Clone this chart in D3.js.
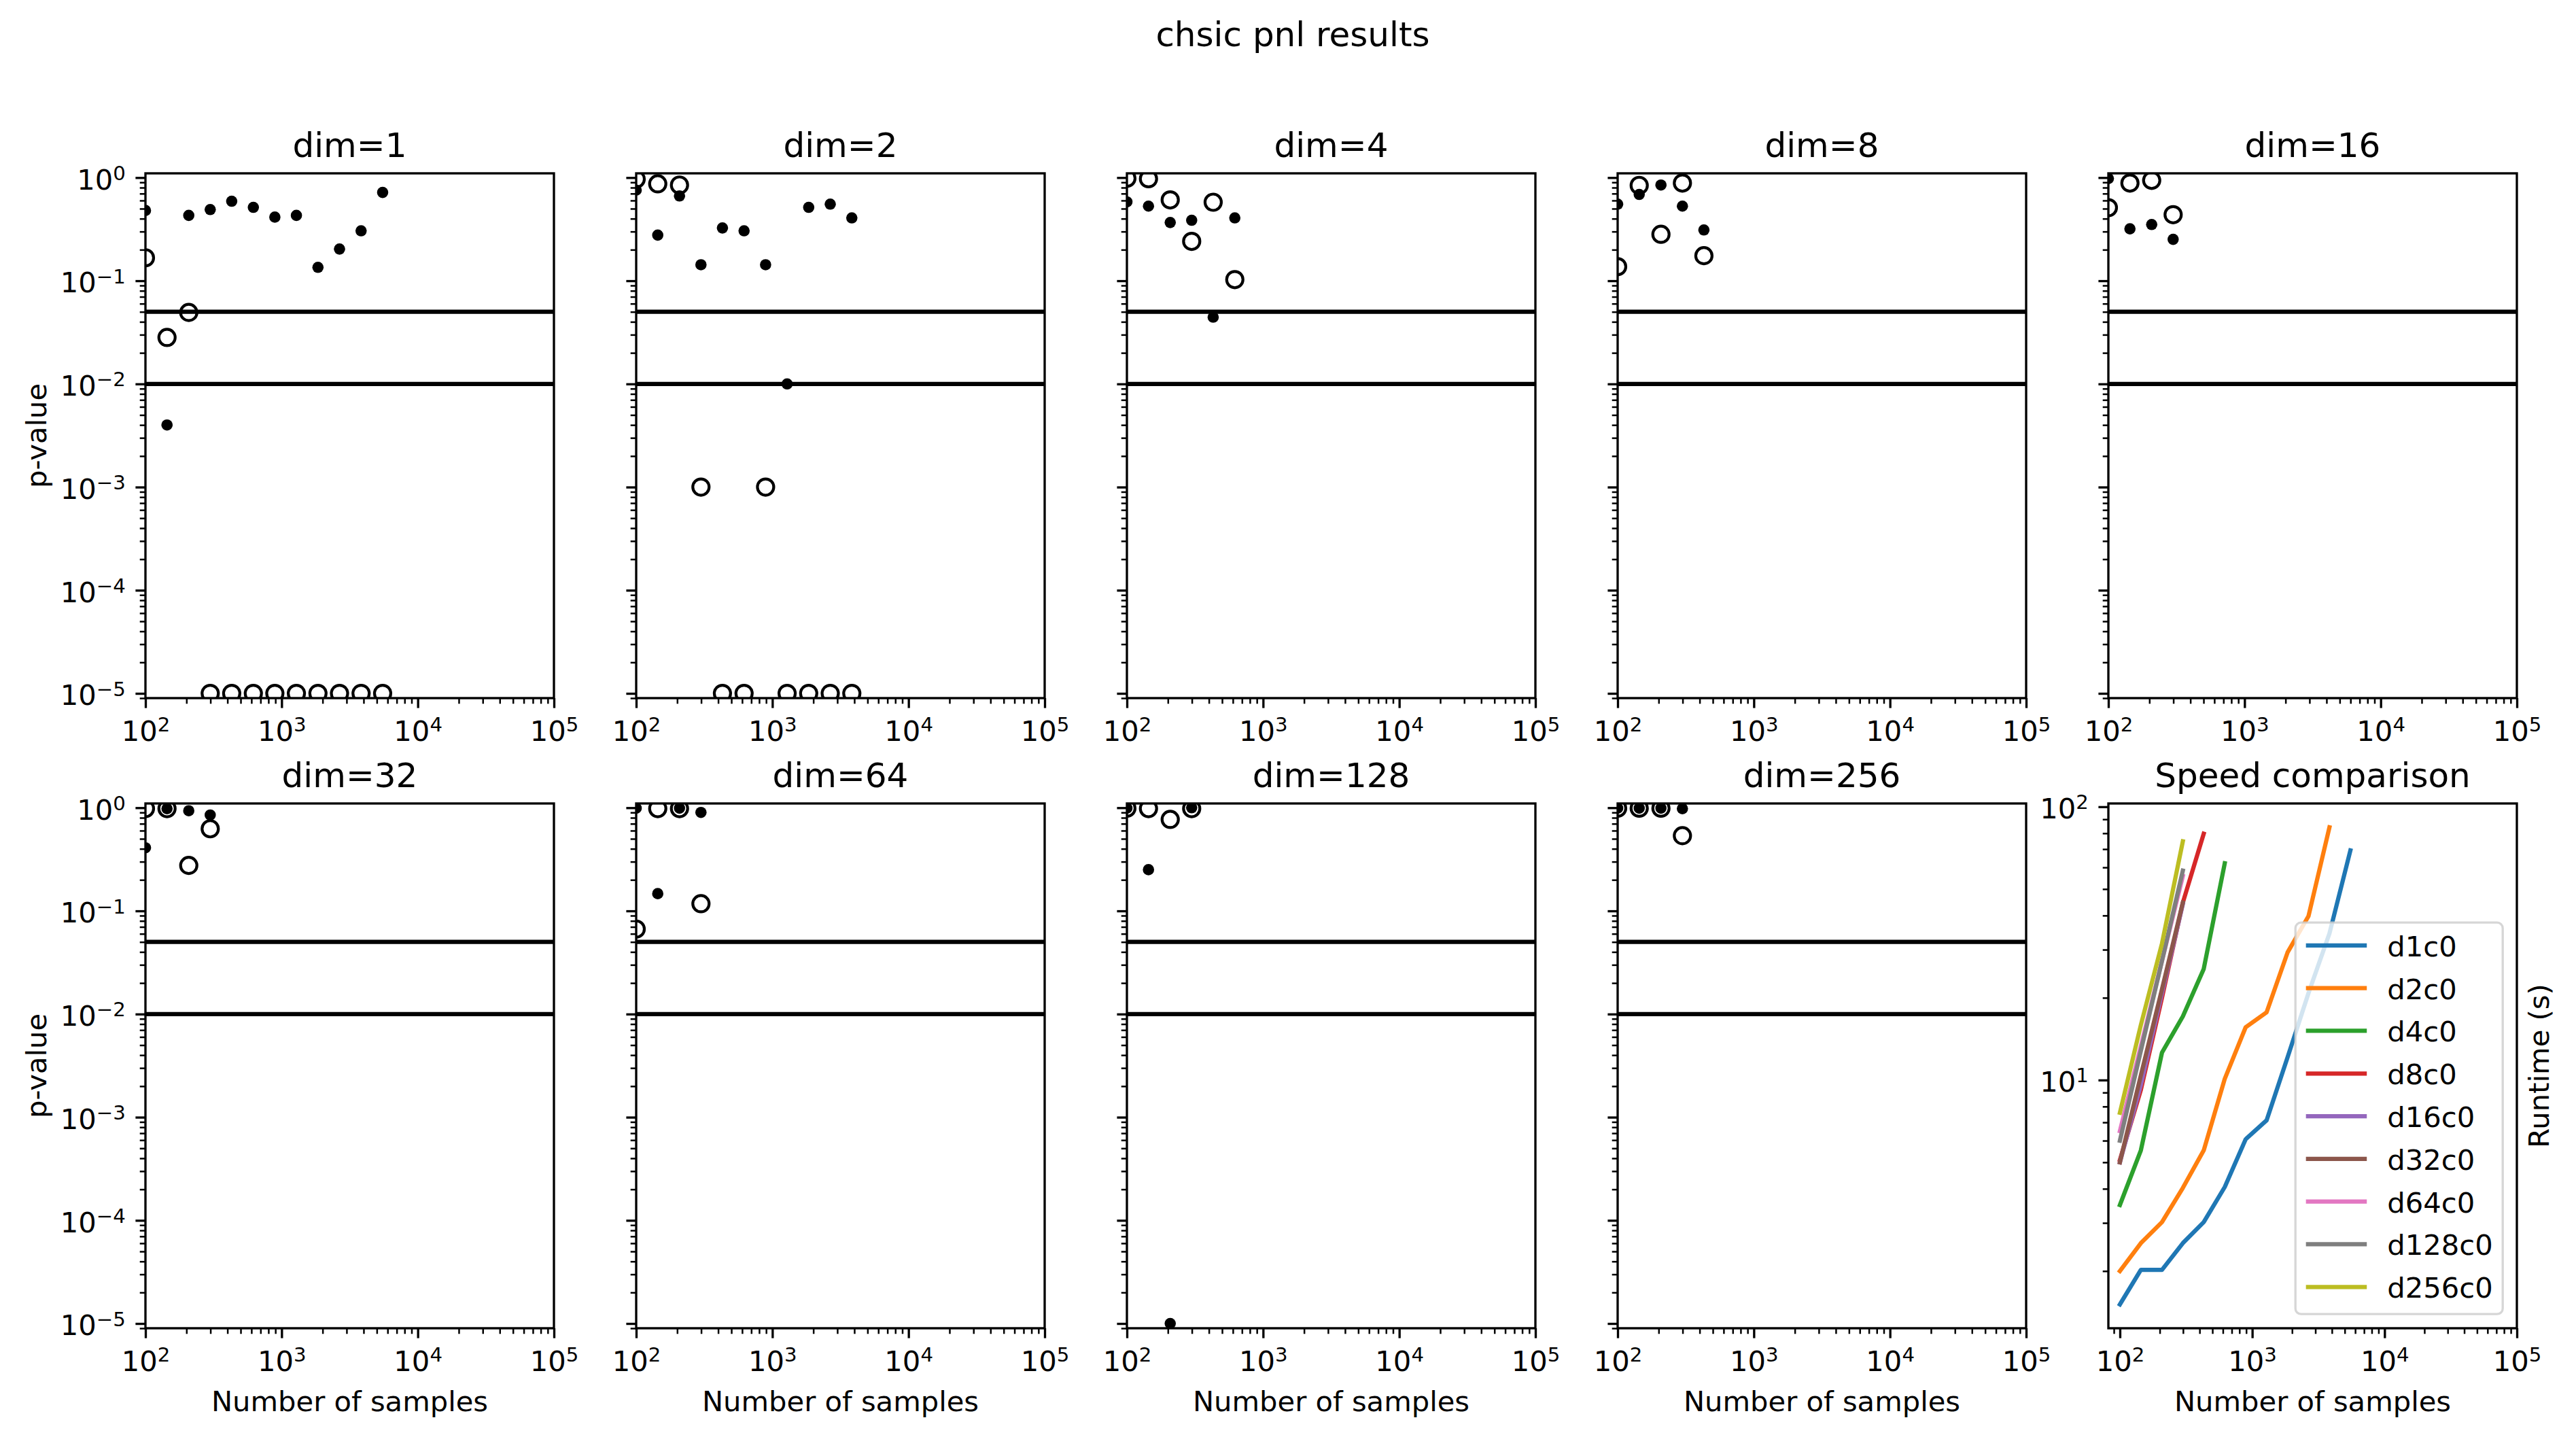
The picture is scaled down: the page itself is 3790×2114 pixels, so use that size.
<!DOCTYPE html>
<html><head><meta charset="utf-8">
<script src="https://cdn.jsdelivr.net/npm/d3@7"></script>
<style>
html,body{margin:0;padding:0;background:#fff;}
svg{display:block;}
text{font-family:"DejaVu Sans",sans-serif;}
</style></head><body>
<svg id="chart" width="3790" height="2114"></svg>
<script>
// ---------------- data ----------------
const sampleSizes = [100, 144, 208, 299, 430, 620, 892, 1284, 1849, 2662, 3834, 5520];
const dimLabels = ["dim=1","dim=2","dim=4","dim=8","dim=16","dim=32","dim=64","dim=128","dim=256"];
const thresholds = [0.05, 0.01];

// filled dots (p-values), one array per dimension
const filledDim1   = [0.48, 0.0040, 0.43, 0.49, 0.59, 0.515, 0.414, 0.43, 0.135, 0.203, 0.305, 0.718];
const filledDim2   = [0.756, 0.277, 0.664, 0.143, 0.325, 0.305, 0.143, 0.010, 0.515, 0.553, 0.407];
const filledDim4   = [0.582, 0.529, 0.367, 0.386, 0.0444, 0.407];
const filledDim8   = [0.553, 0.687, 0.847, 0.529, 0.311];
const filledDim16  = [0.98, 0.319, 0.351, 0.252];
const filledDim32  = [0.409, 0.98, 0.935, 0.85];
const filledDim64  = [0.99, 0.147, 0.99, 0.90];
const filledDim128 = [0.99, 0.251, 0.00001, 1.0];
const filledDim256 = [0.99, 0.99, 0.99, 0.98];

// open circles (p-values), one array per dimension
const openDim1   = [0.167, 0.0282, 0.0493, 0.00001, 0.00001, 0.00001, 0.00001, 0.00001, 0.00001, 0.00001, 0.00001, 0.00001];
const openDim2   = [0.966, 0.87, 0.847, 0.001, 0.00001, 0.00001, 0.001, 0.00001, 0.00001, 0.00001, 0.00001];
const openDim4   = [0.985, 0.975, 0.608, 0.241, 0.577, 0.1026];
const openDim8   = [0.137, 0.84, 0.282, 0.885, 0.175];
const openDim16  = [0.511, 0.885, 0.94, 0.437];
const openDim32  = [0.98, 0.98, 0.276, 0.625];
const openDim64  = [0.0667, 0.98, 0.98, 0.1175];
const openDim128 = [0.99, 0.98, 0.771, 0.98];
const openDim256 = [0.99, 0.99, 0.99, 0.536];

// runtimes (s) for the speed comparison
const speedLabels = ["d1c0","d2c0","d4c0","d8c0","d16c0","d32c0","d64c0","d128c0","d256c0"];
const speedColors = ["#1f77b4","#ff7f0e","#2ca02c","#d62728","#9467bd","#8c564b","#e377c2","#7f7f7f","#bcbd22"];
const runtimeD1   = [1.51, 2.02, 2.02, 2.53, 3.02, 4.06, 6.07, 7.12, 12.1, 20.8, 34.4, 69.2];
const runtimeD2   = [2.0, 2.53, 3.02, 4.03, 5.53, 10.1, 15.6, 17.7, 29.3, 39.8, 84.1];
const runtimeD4   = [3.49, 5.53, 12.6, 17.1, 25.5, 62.1];
const runtimeD8   = [5.1, 9.2, 20.0, 44.6, 79.7];
const runtimeD16  = [5.0, 9.6, 20.8, 44.0];
const runtimeD32  = [5.0, 10.4, 21.5, 44.6];
const runtimeD64  = [6.5, 13.3, 27.3, 55.8];
const runtimeD128 = [6.0, 12.8, 27.3, 58.4];
const runtimeD256 = [7.59, 15.9, 31.6, 74.7];

const xTickExponentsP = [2, 3, 4, 5];

// ---------------- layout / style ----------------
const colLefts = [214, 936, 1658, 2380, 3102];
const rowTops = [255, 1182];
const W = 601, H = 772;
const FS = 41.67, TITLE_FS = 50, SUP_FS = 29.2, SUP_RISE = 13.8;
const MAJ = 14.6, MINL = 8.3;

const filled = [filledDim1, filledDim2, filledDim4, filledDim8, filledDim16, filledDim32, filledDim64, filledDim128, filledDim256];
const opened = [openDim1, openDim2, openDim4, openDim8, openDim16, openDim32, openDim64, openDim128, openDim256];
const runtimes = [runtimeD1, runtimeD2, runtimeD4, runtimeD8, runtimeD16, runtimeD32, runtimeD64, runtimeD128, runtimeD256];

const svg = d3.select('#chart');
svg.append('rect').attr('width', 3790).attr('height', 2114).attr('fill', '#fff');

function supLabel(sel, exp) {
  sel.text(null);
  sel.append('tspan').text('10');
  sel.append('tspan').attr('font-size', SUP_FS).attr('dy', -SUP_RISE)
    .text(exp < 0 ? '\u2212' + (-exp) : String(exp));
}

function logTicks(domain) {
  const lo = Math.floor(Math.log10(domain[0]) + 1e-9), hi = Math.ceil(Math.log10(domain[1]) - 1e-9);
  const major = [], minor = [];
  for (let k = lo - 1; k <= hi; k++) {
    const v = Math.pow(10, k);
    if (v >= domain[0] * (1 - 1e-9) && v <= domain[1] * (1 + 1e-9)) major.push(v);
    for (let m = 2; m <= 9; m++) {
      const u = m * v;
      if (u >= domain[0] && u <= domain[1]) minor.push(u);
    }
  }
  return { major, minor };
}

let clipId = 0;
function makeAxes(left, top, xDomain, yDomain, opts) {
  const g = svg.append('g').attr('transform', `translate(${left},${top})`);
  const x = d3.scaleLog().domain(xDomain).range([0, W]);
  const y = d3.scaleLog().domain(yDomain).range([H, 0]);
  const id = 'clip' + (clipId++);
  g.append('clipPath').attr('id', id).append('rect').attr('width', W).attr('height', H);
  const plot = g.append('g').attr('clip-path', `url(#${id})`);

  // x ticks
  const xt = logTicks(xDomain);
  const gxm = g.append('g').attr('transform', `translate(0,${H})`)
    .call(d3.axisBottom(x).tickValues(xt.minor).tickSize(MINL).tickFormat(''));
  gxm.select('.domain').remove();
  gxm.selectAll('line').attr('stroke', '#000').attr('stroke-width', 2.5);
  gxm.selectAll('text').remove();
  const gx = g.append('g').attr('transform', `translate(0,${H})`)
    .call(d3.axisBottom(x).tickValues(xt.major).tickSize(MAJ).tickFormat(''));
  gx.select('.domain').remove();
  gx.attr('font-family', null).attr('font-size', null);
  gx.selectAll('line').attr('stroke', '#000').attr('stroke-width', 3.33);
  gx.selectAll('text').attr('y', 63).attr('dy', null).attr('fill', '#000')
    .attr('font-family', 'DejaVu Sans').attr('font-size', FS)
    .each(function (d) { supLabel(d3.select(this), Math.round(Math.log10(d))); });

  // y ticks
  const yt = logTicks(yDomain);
  const gym = g.append('g').call(d3.axisLeft(y).tickValues(yt.minor).tickSize(MINL).tickFormat(''));
  gym.select('.domain').remove();
  gym.selectAll('line').attr('stroke', '#000').attr('stroke-width', 2.5);
  gym.selectAll('text').remove();
  const gy = g.append('g').call(d3.axisLeft(y).tickValues(yt.major).tickSize(MAJ).tickFormat(''));
  gy.select('.domain').remove();
  gy.attr('font-family', null).attr('font-size', null);
  gy.selectAll('line').attr('stroke', '#000').attr('stroke-width', 3.33);
  if (opts.yLabels) {
    gy.selectAll('text').attr('x', -29.2).attr('y', 16.8).attr('dy', null).attr('fill', '#000')
      .attr('font-family', 'DejaVu Sans').attr('font-size', FS).attr('text-anchor', 'end')
      .each(function (d) { supLabel(d3.select(this), Math.round(Math.log10(d))); });
  } else {
    gy.selectAll('text').remove();
  }

  // title
  g.append('text').attr('x', W / 2).attr('y', -24).attr('text-anchor', 'middle')
    .attr('font-size', TITLE_FS).attr('fill', '#000').text(opts.title);
  if (opts.xLabel) {
    g.append('text').attr('x', W / 2).attr('y', H + 122).attr('text-anchor', 'middle')
      .attr('font-size', FS).attr('fill', '#000').text(opts.xLabel);
  }
  return { g, plot, x, y };
}

function drawSpines(g) {
  g.append('rect').attr('x', 0).attr('y', 0).attr('width', W).attr('height', H)
    .attr('fill', 'none').attr('stroke', '#000').attr('stroke-width', 3.33);
}

// ---------------- p-value panels ----------------
const pDomainX = [Math.pow(10, xTickExponentsP[0]), Math.pow(10, xTickExponentsP[xTickExponentsP.length - 1])];
const pDomainY = [0.9e-5, 1.1];

for (let i = 0; i < 9; i++) {
  const row = Math.floor(i / 5), col = i % 5;
  const ax = makeAxes(colLefts[col], rowTops[row], pDomainX, pDomainY, {
    title: dimLabels[i], yLabels: col === 0, xLabel: row === 1 ? 'Number of samples' : null
  });
  // thresholds
  ax.plot.selectAll('line.thr').data(thresholds).enter().append('line')
    .attr('x1', 0).attr('x2', W).attr('y1', d => ax.y(d)).attr('y2', d => ax.y(d))
    .attr('stroke', '#000').attr('stroke-width', 6.25);
  // open circles
  ax.plot.selectAll('circle.open').data(opened[i]).enter().append('circle')
    .attr('cx', (d, j) => ax.x(sampleSizes[j])).attr('cy', d => ax.y(d)).attr('r', 12)
    .attr('fill', 'none').attr('stroke', '#000').attr('stroke-width', 4.2);
  // filled dots
  ax.plot.selectAll('circle.fill').data(filled[i]).enter().append('circle')
    .attr('cx', (d, j) => ax.x(sampleSizes[j])).attr('cy', d => ax.y(d)).attr('r', 8.3)
    .attr('fill', '#000');
  drawSpines(ax.g);
  if (col === 0) {
    svg.append('text').attr('transform', `translate(68,${rowTops[row] + H / 2}) rotate(-90)`)
      .attr('text-anchor', 'middle').attr('font-size', FS).attr('fill', '#000').text('p-value');
  }
}

// ---------------- speed comparison ----------------
{
  const allX = [], allY = [];
  runtimes.forEach(r => r.forEach((v, j) => { allX.push(sampleSizes[j]); allY.push(v); }));
  const lx0 = Math.log10(d3.min(allX)), lx1 = Math.log10(d3.max(allX));
  const ly0 = Math.log10(d3.min(allY)), ly1 = Math.log10(d3.max(allY));
  const px = 0.05 * (lx1 - lx0), py = 0.05 * (ly1 - ly0);
  const xDom = [Math.pow(10, lx0 - px), 1e5];
  const yDom = [Math.pow(10, ly0 - py), Math.pow(10, ly1 + py)];
  const ax = makeAxes(colLefts[4], rowTops[1], xDom, yDom, {
    title: 'Speed comparison', yLabels: true, xLabel: 'Number of samples'
  });
  const line = d3.line().x((d, j) => ax.x(sampleSizes[j])).y(d => ax.y(d));
  runtimes.forEach((r, k) => {
    ax.plot.append('path').attr('d', line(r)).attr('fill', 'none')
      .attr('stroke', speedColors[k]).attr('stroke-width', 6.25)
      .attr('stroke-linejoin', 'round').attr('stroke-linecap', 'square');
  });
  drawSpines(ax.g);

  // legend (lower right)
  const lgW = 305, lgH = 576, lgPad = 20.8;
  const lgX = W - lgPad - lgW, lgY = H - lgPad - lgH;
  const lg = ax.g.append('g').attr('transform', `translate(${lgX},${lgY})`);
  lg.append('rect').attr('width', lgW).attr('height', lgH).attr('rx', 8.3).attr('ry', 8.3)
    .attr('fill', '#fff').attr('fill-opacity', 0.8)
    .attr('stroke', '#cccccc').attr('stroke-opacity', 0.8).attr('stroke-width', 3.3);
  speedLabels.forEach((lab, k) => {
    const cy = 33.7 + k * 62.8;
    lg.append('line').attr('x1', 18.6).attr('x2', 18.6 + 83.3).attr('y1', cy).attr('y2', cy)
      .attr('stroke', speedColors[k]).attr('stroke-width', 6.25).attr('stroke-linecap', 'square');
    lg.append('text').attr('x', 135.1).attr('y', cy + 16).attr('font-size', FS).attr('fill', '#000').text(lab);
  });

  svg.append('text').attr('transform', `translate(3750,${rowTops[1] + H / 2}) rotate(-90)`)
    .attr('text-anchor', 'middle').attr('font-size', FS).attr('fill', '#000').text('Runtime (s)');
}

// suptitle
svg.append('text').attr('x', 1902).attr('y', 68).attr('text-anchor', 'middle')
  .attr('font-size', TITLE_FS).attr('fill', '#000').text('chsic pnl results');
</script>
</body></html>
